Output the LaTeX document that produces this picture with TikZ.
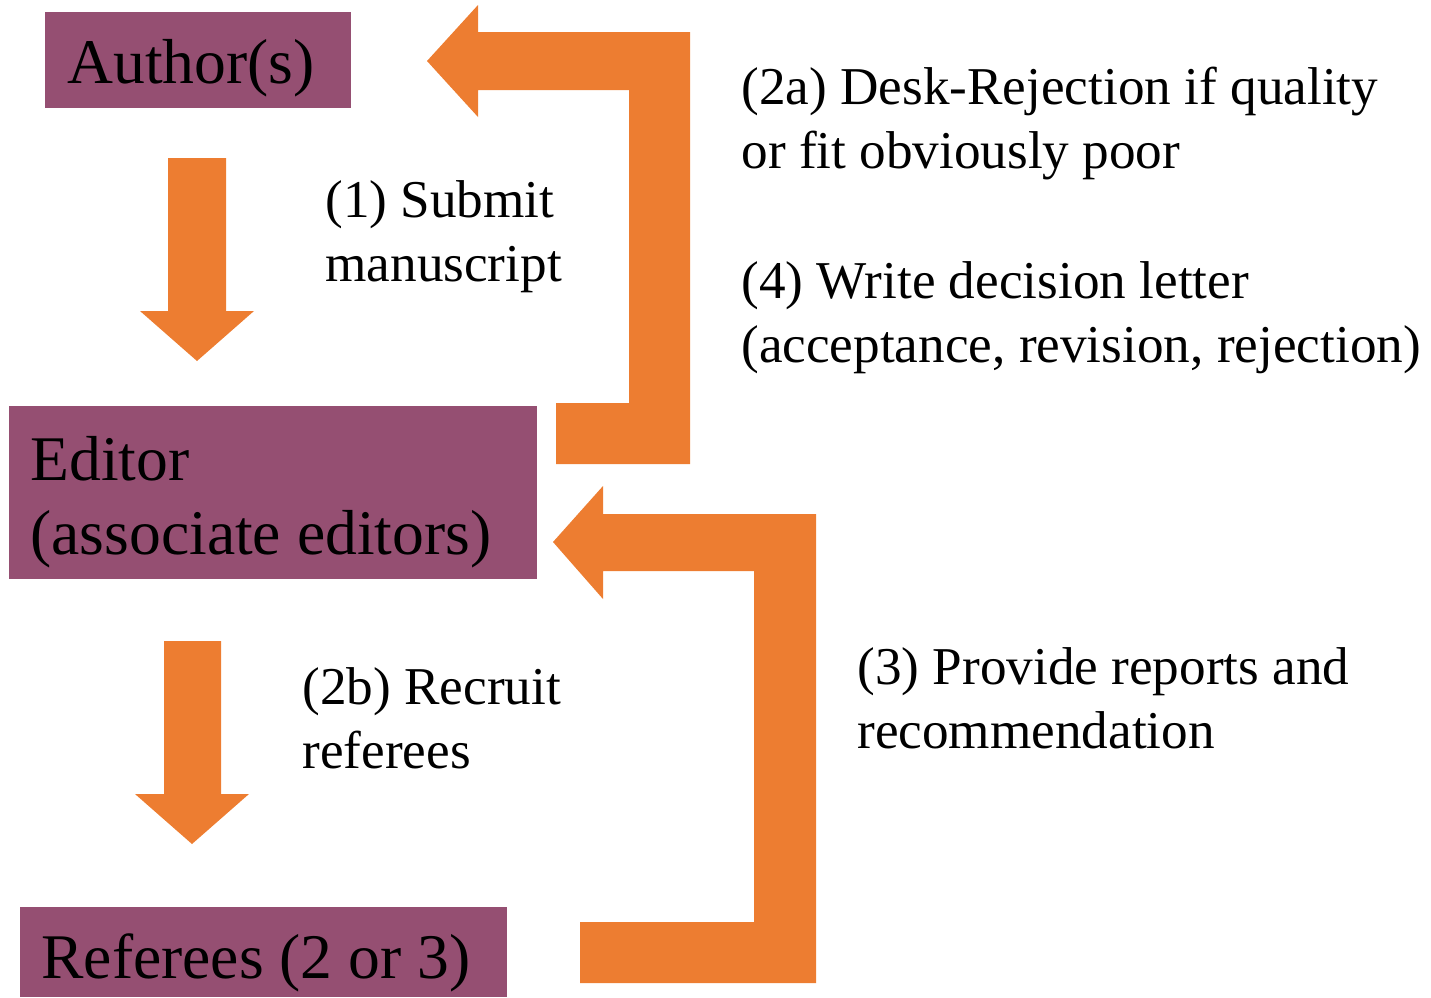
\documentclass[tikz,border=0pt]{standalone}
\usepackage{fontspec}
\setmainfont{Liberation Serif}
\definecolor{arrowor}{HTML}{ED7D31}
\definecolor{boxpu}{HTML}{954F72}
\begin{document}
\begin{tikzpicture}[x=0.5pt,y=-0.5pt,
  box/.style={fill=boxpu, draw=none, rectangle, inner sep=0pt, anchor=north west},
  lbl/.style={anchor=base west, inner sep=0pt, align=left, font=\fontsize{26.6}{32}\selectfont},
  boxlbl/.style={anchor=base west, inner sep=0pt, align=left, font=\fontsize{31.8}{37}\selectfont},
  blockarrow/.style={fill=arrowor, draw=none}]
\useasboundingbox (0,0) rectangle (1431,997);
% boxes
\node[box, minimum width=153pt, minimum height=48pt] (author) at (45,12) {};
\node[box, minimum width=264pt, minimum height=86.5pt] (editor) at (9,406) {};
\node[box, minimum width=243.5pt, minimum height=45pt] (referees) at (20,907) {};
\node[boxlbl] (authortxt) at (67,83) {Author(s)};
\node[boxlbl] (editortxt) at (30,554) {Editor\\(associate editors)};
\node[boxlbl] (refereestxt) at (41,978) {Referees (2 or 3)};
% down arrows
\fill[blockarrow] (168,158) -- (226,158) -- (226,311) -- (254,311) -- (197,361) -- (140,311) -- (168,311) -- cycle;
\fill[blockarrow] (164,641) -- (221,641) -- (221,794) -- (249,794) -- (192,844) -- (135,794) -- (164,794) -- cycle;
% return arrows
\fill[blockarrow] (427,61) -- (478,5) -- (478,32) -- (690,32) -- (690,464) -- (556,464) -- (556,403) -- (629,403) -- (629,90) -- (478,90) -- (478,117) -- cycle;
\fill[blockarrow] (553,542) -- (603,486) -- (603,514) -- (816,514) -- (816,983) -- (580,983) -- (580,922) -- (754,922) -- (754,571) -- (603,571) -- (603,599) -- cycle;
% labels
\node[lbl] (l1) at (325,281) {(1) Submit\\manuscript};
\node[lbl] (l2b) at (302,768) {(2b) Recruit\\referees};
\node[lbl] (l2a) at (741,168) {(2a) Desk-Rejection if quality\\or fit obviously poor};
\node[lbl] (l4) at (741,362) {(4) Write decision letter\\(acceptance, revision, rejection)};
\node[lbl] (l3) at (857,748) {(3) Provide reports and\\recommendation};
\end{tikzpicture}
\end{document}
